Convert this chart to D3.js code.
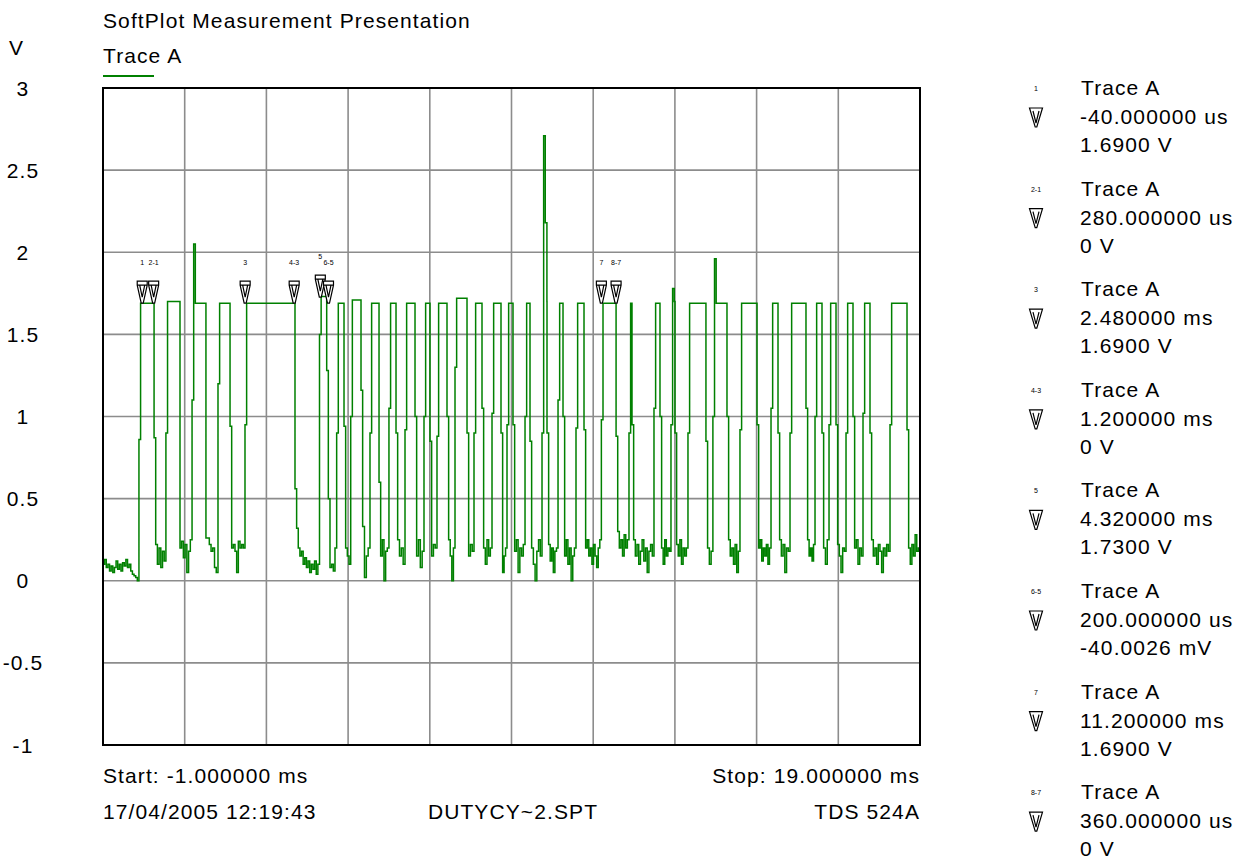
<!DOCTYPE html>
<html>
<head>
<meta charset="utf-8">
<script src="https://cdn.jsdelivr.net/npm/d3@7"></script>
<style>
  body { margin: 0; background: #fff; }
  svg text { font-family: "Liberation Sans", Arial, sans-serif; font-size: 21px; letter-spacing: 1.1px; fill: #000; }
  svg text.tiny { font-size: 7px; letter-spacing: 0; }
</style>
</head>
<body>
<div id="chart"></div>
<script>
const width = 1250;
const height = 863;

// plot frame
const plotLeft = 103, plotRight = 920, plotTop = 88, plotBottom = 745;

// axes
const yTicks = [3, 2.5, 2, 1.5, 1, 0.5, 0, -0.5, -1];
const yTickLabels = ["3", "2.5", "2", "1.5", "1", "0.5", "0", "-0.5", "-1"];
const xGrid = [-1, 1, 3, 5, 7, 9, 11, 13, 15, 17, 19];

// trace A pulses, time in ms, level in V
const riseTimes = [-0.12, 0.54, 1.18, 1.815, 2.476, 4.30, 4.72, 5.064, 5.536, 6.00, 6.393, 6.858, 7.176, 7.617, 8.082, 8.523, 8.89, 9.331, 9.747, 10.139, 10.579, 11.20, 11.876, 12.488, 12.904, 13.32, 13.93, 14.593, 15.353, 15.818, 16.43, 16.773, 17.189, 17.605, 18.266];
const fallTimes = [0.25, 0.885, 1.52, 2.11, 3.70, 4.476, 4.90, 5.316, 5.757, 6.173, 6.638, 7.005, 7.421, 7.911, 8.278, 8.743, 9.037, 9.453, 9.869, 10.261, 10.775, 11.56, 11.95, 12.635, 13.002, 13.76, 14.275, 15.01, 15.524, 16.209, 16.601, 16.944, 17.36, 17.776, 18.682];
const riseMids = [0.86, 0.9, 1.1, 1.2, 0.95, 1.5, 0.9, 1.0, 0.9, 1.05, 0.92, 1.0, 0.88, 1.3, 0.9, 1.02, 0.95, 1.0, 0.9, 1.1, 0.93, 0.98, 0.9, 1.05, 0.95, 0.9, 1.0, 0.92, 1.05, 0.9, 1.0, 0.95, 0.9, 1.02, 0.95];
const fallMids = [0.87, 0.2, 0.26, 0.94, 0.56, 1.28, 0.94, 1.16, 0.6, 0.9, 1.0, 0.85, 1.0, 0.9, 1.05, 0.9, 0.95, 0.85, 0.9, 1.0, 0.92, 0.88, 0.95, 1.0, 0.9, 0.85, 1.0, 0.95, 0.9, 1.05, 0.9, 0.95, 1.0, 0.9, 0.92];
const topLevels = [1.69, 1.70, 1.69, 1.69, 1.69, 1.73, 1.69, 1.71, 1.69, 1.69, 1.69, 1.69, 1.69, 1.72, 1.69, 1.69, 1.69, 1.69, 1.70, 1.69, 1.69, 1.69, 1.69, 1.69, 1.70, 1.69, 1.69, 1.69, 1.69, 1.69, 1.69, 1.69, 1.69, 1.69, 1.69];
const spikeLevels = [[], [], [2.05], [], [], [], [], [], [], [], [], [], [], [], [], [], [], [], [2.71, 2.18], [], [], [], [], [], [1.78], [], [1.96], [], [], [], [], [], [], [], []];
// low-level samples between pulses (before first, between each, after last)
const gapNoise = [
    [0.10, 0.13, 0.08, 0.10, 0.06, 0.09, 0.05, 0.08, 0.12, 0.07, 0.10, 0.06, 0.11, 0.09, 0.13, 0.08, 0.10, 0.06, 0.04, 0.03, 0.02, 0.00],
    [0.22, 0.10, 0.20, 0.08, 0.18, 0.12],
    [0.24, 0.14, 0.22, 0.05, 0.18, 0.25],
    [0.26, 0.22, 0.18, 0.20, 0.08, 0.05],
    [0.20, 0.22, 0.18, 0.05, 0.24, 0.20, 0.22, 0.20],
    [0.32, 0.20, 0.15, 0.18, 0.10, 0.14, 0.08, 0.12, 0.05, 0.10, 0.07, 0.12, 0.04, 0.10],
    [0.50, 0.08, 0.10, 0.06, 0.20],
    [0.20, 0.15, 0.10],
    [0.33, 0.02, 0.15, 0.20],
    [0.15, 0.25, 0.00, 0.18, 0.20],
    [0.25, 0.15, 0.20, 0.10],
    [0.15, 0.25, 0.08, 0.18],
    [0.15, 0.22, 0.20],
    [0.25, 0.15, 0.00, 0.20],
    [0.15, 0.22, 0.18],
    [0.20, 0.10, 0.25, 0.15, 0.20],
    [0.05, 0.15, 0.20],
    [0.18, 0.25, 0.05, 0.20, 0.15, 0.22],
    [0.20, 0.10, 0.00, 0.18, 0.25, 0.15],
    [0.22, 0.12, 0.20, 0.05, 0.18, 0.20],
    [0.15, 0.25, 0.10, 0.20, 0.00, 0.15, 0.20],
    [0.20, 0.25, 0.15, 0.20, 0.10, 0.22, 0.15, 0.08, 0.20, 0.25],
    [0.30, 0.20, 0.25, 0.15, 0.28, 0.20, 0.25],
    [0.25, 0.15, 0.22, 0.10, 0.18, 0.25, 0.12, 0.20, 0.05, 0.18, 0.22, 0.15],
    [0.20, 0.10, 0.25, 0.15, 0.20, 0.18],
    [0.22, 0.15, 0.25, 0.10, 0.20, 0.15, 0.20],
    [0.20, 0.10, 0.18],
    [0.25, 0.15, 0.20, 0.10, 0.22, 0.05, 0.18],
    [0.20, 0.25, 0.12, 0.20, 0.15, 0.22, 0.10, 0.20],
    [0.25, 0.15, 0.22, 0.05, 0.20, 0.18],
    [0.25, 0.15, 0.20, 0.12, 0.22],
    [0.20, 0.10, 0.25],
    [0.22, 0.15, 0.05, 0.20, 0.18],
    [0.20, 0.25, 0.10, 0.20, 0.15],
    [0.25, 0.15, 0.20, 0.10, 0.22, 0.18, 0.05, 0.20, 0.15, 0.22, 0.18],
    [0.20, 0.10, 0.22, 0.15, 0.28, 0.18, 0.20]
];
const sampleStep = 0.04; // ms per scope sample

// cursors
const cursorNames = ["1", "2-1", "3", "4-3", "5", "6-5", "7", "8-7"];
const cursorTimes = [-0.04, 0.24, 2.48, 3.68, 4.32, 4.52, 11.2, 11.56];
const cursorReadouts = ["-40.000000 us", "280.000000 us", "2.480000 ms", "1.200000 ms", "4.320000 ms", "200.000000 us", "11.200000 ms", "360.000000 us"];
const cursorValues = ["1.6900 V", "0 V", "1.6900 V", "0 V", "1.7300 V", "-40.0026 mV", "1.6900 V", "0 V"];

const traceColor = "#008000";

const svg = d3.select("#chart").append("svg")
    .attr("width", width)
    .attr("height", height);

const x = d3.scaleLinear().domain([-1, 19]).range([plotLeft, plotRight]);
const y = d3.scaleLinear().domain([-1, 3]).range([plotBottom, plotTop]);

// grid
const grid = svg.append("g");
grid.selectAll("line.v")
    .data(xGrid.slice(1, -1))
    .join("line")
    .attr("x1", d => x(d)).attr("x2", d => x(d))
    .attr("y1", plotTop).attr("y2", plotBottom)
    .attr("stroke", "#8c8c8c").attr("stroke-width", 1.6);
grid.selectAll("line.h")
    .data(yTicks.slice(1, -1))
    .join("line")
    .attr("x1", plotLeft).attr("x2", plotRight)
    .attr("y1", d => y(d)).attr("y2", d => y(d))
    .attr("stroke", "#8c8c8c").attr("stroke-width", 1.6);

// y labels
svg.append("g").selectAll("text")
    .data(yTicks)
    .join("text")
    .attr("x", 23)
    .attr("y", d => y(d))
    .attr("dy", "0.36em")
    .attr("text-anchor", "middle")
    .text((d, i) => yTickLabels[i]);

// build the trace from the pulse lists
const pts = [];
for (let k = 0; k <= riseTimes.length; k++) {
    const s = k === 0 ? -1 : fallTimes[k - 1] + sampleStep;
    const e = k === riseTimes.length ? 19 : riseTimes[k];
    const noise = gapNoise[k];
    noise.forEach((v, j) => pts.push([s + j * (e - s) / noise.length, v]));
    if (k === riseTimes.length) break;
    let t = riseTimes[k];
    pts.push([t, riseMids[k]]);
    spikeLevels[k].forEach(v => { t += sampleStep; pts.push([t, v]); });
    pts.push([t + sampleStep, topLevels[k]]);
    pts.push([fallTimes[k], fallMids[k]]);
}
pts.push([19, gapNoise[gapNoise.length - 1].slice(-1)[0]]);

const line = d3.line()
    .x(d => x(d[0]))
    .y(d => y(d[1]))
    .curve(d3.curveStepAfter);

svg.append("path")
    .datum(pts)
    .attr("d", line)
    .attr("fill", "none")
    .attr("stroke", traceColor)
    .attr("stroke-width", 1.5);

// frame
svg.append("rect")
    .attr("x", plotLeft).attr("y", plotTop)
    .attr("width", plotRight - plotLeft).attr("height", plotBottom - plotTop)
    .attr("fill", "none").attr("stroke", "#000").attr("stroke-width", 2);

// cursor markers on the plot
const markerPath = "M-5,-22H5V-18L1,0H-1L-5,-18ZM-5,-18H5M-2.5,-18L0,-6L2.5,-18";
const tipY = y(1.69);
const markers = svg.append("g");
cursorTimes.forEach((t, i) => {
    const mx = x(t);
    const next = cursorTimes[i + 1];
    const lift = next !== undefined && x(next) - mx < 10 ? -6 : 0;
    markers.append("path")
        .attr("d", markerPath)
        .attr("transform", `translate(${mx},${tipY + lift})`)
        .attr("fill", "#fff")
        .attr("stroke", "#000")
        .attr("stroke-width", 1.2);
    markers.append("text")
        .attr("class", "tiny")
        .attr("x", mx)
        .attr("y", 265 + lift)
        .attr("text-anchor", "middle")
        .text(cursorNames[i]);
});

// titles
svg.append("text").attr("x", 103).attr("y", 28).text("SoftPlot Measurement Presentation");
svg.append("text").attr("x", 9).attr("y", 55).text("V");
svg.append("text").attr("x", 103).attr("y", 63).text("Trace A");
svg.append("line")
    .attr("x1", 103).attr("x2", 154)
    .attr("y1", 76).attr("y2", 76)
    .attr("stroke", traceColor).attr("stroke-width", 2);

// footer
svg.append("text").attr("x", 103).attr("y", 783).text("Start: -1.000000 ms");
svg.append("text").attr("x", 920).attr("y", 783).attr("text-anchor", "end").text("Stop: 19.000000 ms");
svg.append("text").attr("x", 103).attr("y", 819).text("17/04/2005 12:19:43");
svg.append("text").attr("x", 513).attr("y", 819).attr("text-anchor", "middle").text("DUTYCY~2.SPT");
svg.append("text").attr("x", 920).attr("y", 819).attr("text-anchor", "end").text("TDS 524A");

// cursor legend on the right
const legendMarker = "M-6.5,0H6.5L0.8,19H-0.8ZM-3,3L0,15L3,3";
const legend = svg.append("g");
cursorNames.forEach((name, i) => {
    const y0 = 88 + i * 100.6;
    legend.append("text").attr("class", "tiny")
        .attr("x", 1036).attr("y", y0 + 3)
        .attr("text-anchor", "middle").text(name);
    legend.append("path")
        .attr("d", legendMarker)
        .attr("transform", `translate(1036,${y0 + 20})`)
        .attr("fill", "#fff").attr("stroke", "#000").attr("stroke-width", 1.2);
    legend.append("text").attr("x", 1081).attr("y", y0 + 7).text("Trace A");
    legend.append("text").attr("x", 1080).attr("y", y0 + 36).text(cursorReadouts[i]);
    legend.append("text").attr("x", 1080).attr("y", y0 + 64).text(cursorValues[i]);
});
</script>
</body>
</html>
